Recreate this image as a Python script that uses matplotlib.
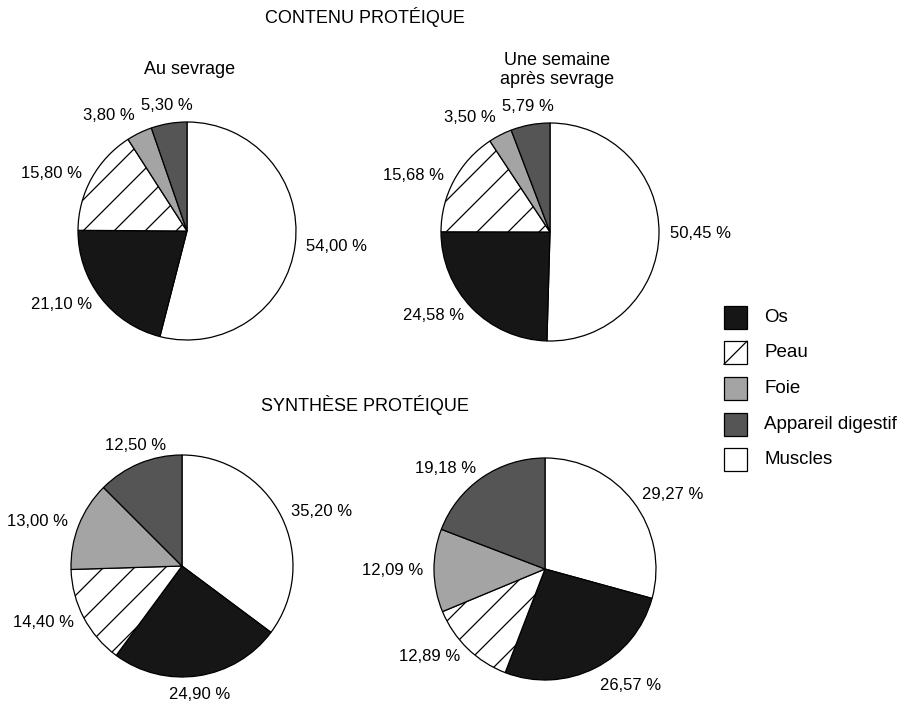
import numpy as np
import matplotlib
matplotlib.use("Agg")
import matplotlib.pyplot as plt
from matplotlib.patches import Rectangle

plt.rcParams["font.family"] = ["Liberation Sans", "DejaVu Sans"]

# Tissus dans l'ordre des secteurs (sens horaire depuis midi)
tissus = ["Muscles", "Os", "Peau", "Foie", "Appareil digestif"]
couleurs = ["white", "#161616", "white", "#a4a4a4", "#555555"]
hachures = [False, False, True, False, False]

# Répartition en % par tissu
contenu_sevrage = [54.00, 21.10, 15.80, 3.80, 5.30]
contenu_semaine = [50.45, 24.58, 15.68, 3.50, 5.79]
synthese_sevrage = [35.20, 24.90, 14.40, 13.00, 12.50]
synthese_semaine = [29.27, 26.57, 12.89, 12.09, 19.18]

ordre_legende = ["Os", "Peau", "Foie", "Appareil digestif", "Muscles"]

W, H = 906, 704
fig = plt.figure(figsize=(W / 100, H / 100), dpi=100)
ax = fig.add_axes([0, 0, 1, 1])

# (valeurs, centre en pixels, rayon)
camemberts = [
    (contenu_sevrage, (187, 231), 109),
    (contenu_semaine, (550, 232), 109),
    (synthese_sevrage, (182, 566), 111),
    (synthese_semaine, (545, 569), 111),
]

TXT = 12
for valeurs, centre, rayon in camemberts:
    cx, cy = centre
    # axe y inversé : startangle=-90 + counterclock=True -> sens horaire depuis midi
    wedges, _ = ax.pie(valeurs, colors=couleurs, center=centre, radius=rayon,
                       startangle=-90, counterclock=True,
                       wedgeprops=dict(edgecolor="black", linewidth=0.9))
    for w, hach in zip(wedges, hachures):
        if not hach:
            continue
        for c in np.arange(-2 * rayon - 10, 2 * rayon, 31):
            ln, = ax.plot([cx + c - rayon, cx + c + rayon], [cy + rayon, cy - rayon],
                          color="black", lw=0.9)
            ln.set_clip_path(w)

    # étiquettes de pourcentage autour du disque
    for w, v in zip(wedges, valeurs):
        ang = np.deg2rad((w.theta1 + w.theta2) / 2)
        dx, dy = np.cos(ang), np.sin(ang)
        x = cx + 1.1 * rayon * dx
        y = cy + 1.1 * rayon * dy
        ha = "left" if dx > 0.4 else ("right" if dx < -0.4 else "center")
        va = "bottom" if dy < -0.85 else ("top" if dy > 0.85 else "center")
        ax.text(x, y, f"{v:.2f} %".replace(".", ","), ha=ha, va=va, fontsize=TXT)

# titres
ax.text(365, 17, "CONTENU PROTÉIQUE", ha="center", va="center", fontsize=13)
ax.text(365, 405, "SYNTHÈSE PROTÉIQUE", ha="center", va="center", fontsize=13)
ax.text(190, 70, "Au sevrage", ha="center", va="center", fontsize=13)
ax.text(557, 70, "Une semaine\naprès sevrage", ha="center", va="center",
        fontsize=13, linespacing=1.1)

# légende
for i, nom in enumerate(ordre_legende):
    k = tissus.index(nom)
    y = 317 + i * 35.7
    ax.add_patch(Rectangle((724, y - 11.5), 23, 23, facecolor=couleurs[k],
                           edgecolor="black", lw=0.9))
    if hachures[k]:
        ax.plot([724, 747], [y + 11.5, y - 11.5], color="black", lw=0.9)
    ax.text(764, y, nom, ha="left", va="center", fontsize=13.5)

ax.set_xlim(0, W)
ax.set_ylim(H, 0)
ax.set_aspect("equal")
ax.axis("off")

fig.savefig("out.png", dpi=100)
plt.close(fig)
